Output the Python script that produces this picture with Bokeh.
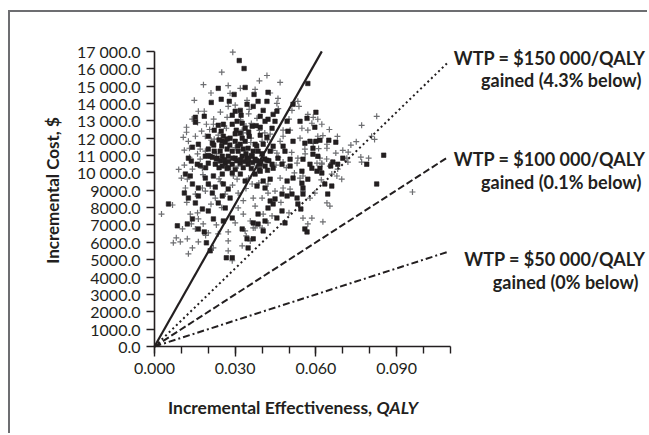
import math
from bokeh.plotting import figure
from bokeh.models import Label, FixedTicker, Range1d
from bokeh.embed import file_html
from bokeh.resources import INLINE

# ---------------- data ----------------
sq_x = [0.0315, 0.0333, 0.0237, 0.0296, 0.0211, 0.0248, 0.0278, 0.0344, 0.0337, 0.0185,
        0.0152, 0.0152, 0.0300, 0.0319, 0.0322, 0.0289, 0.0307, 0.0326, 0.0237, 0.0256,
        0.0289, 0.0222, 0.0248, 0.0304, 0.0319, 0.0337, 0.0363, 0.0200, 0.0256, 0.0281,
        0.0326, 0.0352, 0.0163, 0.0141, 0.0215, 0.0252, 0.0263, 0.0300, 0.0319, 0.0337,
        0.0200, 0.0222, 0.0244, 0.0270, 0.0289, 0.0311, 0.0330, 0.0348, 0.0367, 0.0126,
        0.0137, 0.0189, 0.0207, 0.0233, 0.0252, 0.0274, 0.0300, 0.0326, 0.0344, 0.0363,
        0.0159, 0.0200, 0.0226, 0.0263, 0.0289, 0.0319, 0.0348,
        0.0570, 0.0370, 0.0422, 0.0385, 0.0418, 0.0367, 0.0404, 0.0455, 0.0441, 0.0515,
        0.0393, 0.0422, 0.0411, 0.0448, 0.0493, 0.0541, 0.0600, 0.0567, 0.0378, 0.0393,
        0.0437, 0.0596, 0.0393, 0.0418, 0.0496, 0.0515, 0.0578, 0.0600, 0.0615, 0.0648,
        0.0674, 0.0374, 0.0404, 0.0441, 0.0478, 0.0559, 0.0589, 0.0385, 0.0400, 0.0430,
        0.0485, 0.0589, 0.0607, 0.0700, 0.0374, 0.0418, 0.0459, 0.0504, 0.0552, 0.0663,
        0.0578, 0.0393, 0.0437,
        0.0852, 0.0789, 0.0826,
        0.0052, 0.0085, 0.0122, 0.0141, 0.0163, 0.0185, 0.0193, 0.0207, 0.0178, 0.0200,
        0.0219, 0.0256, 0.0263, 0.0289, 0.0237, 0.0111, 0.0126, 0.0152, 0.0163, 0.0215,
        0.0252, 0.0281, 0.0141, 0.0163, 0.0200, 0.0226, 0.0256, 0.0274, 0.0115, 0.0133,
        0.0189, 0.0219, 0.0252, 0.0289, 0.0319, 0.0337, 0.0170, 0.0190, 0.0252, 0.0275,
        0.0326, 0.0344, 0.0348, 0.0267, 0.0289, 0.0367,
        0.0367, 0.0385, 0.0404, 0.0411, 0.0455, 0.0485, 0.0559, 0.0567, 0.0422, 0.0441,
        0.0474, 0.0430, 0.0385, 0.0544, 0.0404, 0.0430, 0.0474, 0.0493, 0.0511, 0.0530,
        0.0552, 0.0533, 0.0448, 0.0381, 0.0411, 0.0493, 0.0515, 0.0548, 0.0552, 0.0570,
        0.0604, 0.0622, 0.0644, 0.0633, 0.0659, 0.0681, 0.0655, 0.0411, 0.0441, 0.0474,
        0.0504, 0.0548, 0.0585, 0.0374, 0.0393, 0.0615,
        0.0200, 0.0215, 0.0230, 0.0245, 0.0260, 0.0275, 0.0290, 0.0305, 0.0320, 0.0335,
        0.0350, 0.0365, 0.0380, 0.0395, 0.0410, 0.0425, 0.0240, 0.0270, 0.0300, 0.0330,
        0.0360, 0.0390, 0.0420, 0.0340, 0.0310, 0.0280, 0.0250, 0.0220, 0.0350, 0.0300,
        0.0270, 0.0240, 0.0380, 0.0360]
sq_y = [16470, 16010, 14870, 14520, 14060, 14240, 14120, 13950, 14920, 13260,
        13200, 12920, 13550, 13600, 13320, 13320, 12970, 12860, 12740, 12800,
        12800, 12460, 12400, 12460, 12280, 12570, 12690, 12110, 12110, 12000,
        12000, 12110, 11650, 11480, 11710, 11820, 11770, 11820, 11650, 11820,
        11370, 11250, 11250, 11370, 11250, 11250, 11370, 11420, 11250, 10850,
        10680, 10960, 10960, 10850, 10960, 10960, 10850, 10960, 10850, 10960,
        10500, 10560, 10500, 10560, 10500, 10560, 10500,
        15150, 14520, 14640, 14120, 14120, 13830, 13600, 13550, 13370, 13950,
        13260, 13090, 12970, 12970, 12970, 12970, 13490, 13140, 12720, 12630,
        12570, 12630, 12170, 12050, 12400, 11820, 11820, 11820, 11880, 11880,
        11770, 11650, 11650, 11540, 11540, 11710, 11420, 11250, 11100, 11250,
        11250, 11080, 10960, 10850, 10790, 10730, 10850, 10790, 10790, 10620,
        10500, 10500, 10500,
        11020, 10500, 9360,
        8210, 6950, 7060, 7350, 6770, 6600, 5970, 5510, 7920, 7810,
        7350, 7230, 7980, 7400, 8270, 8840, 8550, 8270, 8670, 8840,
        8670, 8550, 9360, 9130, 9360, 9180, 9360, 9070, 9930, 9820,
        9700, 9820, 9930, 9990, 9930, 9530, 10420, 10300, 10390, 10300,
        6770, 6200, 5680, 5110, 5110, 7120,
        6200, 7050, 6660, 7230, 7400, 7120, 6770, 6600, 7980, 8210,
        7810, 8380, 7630, 7920, 9530, 9640, 8780, 8670, 8780, 8550,
        8780, 8210, 8500, 9240, 9130, 9530, 9700, 9410, 9130, 9640,
        10100, 9990, 8780, 9360, 9240, 10500, 10400, 10390, 10270, 10500,
        10390, 10100, 10270, 9930, 10100, 10270,
        11000, 10900, 10800, 10700, 10750, 10650, 10850, 10700, 10750, 10650,
        10750, 10600, 10700, 10650, 10800, 10700, 10300, 10250, 10200, 10300,
        10250, 10200, 10150, 11100, 11550, 11600, 11550, 11600, 12350, 12250,
        11950, 11900, 11550, 11000]

pl_x = [0.0291, 0.0182, 0.0274, 0.0319, 0.0281, 0.0148, 0.0344, 0.0163, 0.0185, 0.0274,
        0.0352, 0.0193, 0.0219, 0.0119, 0.0119, 0.0107, 0.0126, 0.0152, 0.0189, 0.0211,
        0.0222, 0.0237, 0.0111, 0.0130, 0.0189, 0.0170, 0.0267, 0.0326, 0.0359, 0.0270,
        0.0111, 0.0170,
        0.0418, 0.0467, 0.0374, 0.0459, 0.0455, 0.0533, 0.0537, 0.0511, 0.0570, 0.0607,
        0.0585, 0.0622, 0.0381, 0.0360, 0.0478, 0.0504, 0.0548, 0.0570, 0.0430, 0.0478,
        0.0541, 0.0607, 0.0626, 0.0641, 0.0641, 0.0674, 0.0358, 0.0467, 0.0559, 0.0510,
        0.0455, 0.0533, 0.0615, 0.0715, 0.0530, 0.0478, 0.0622, 0.0452, 0.0400, 0.0400,
        0.0826, 0.0770, 0.0807, 0.0818, 0.0767, 0.0796, 0.0719, 0.0770, 0.0959,
        0.0026, 0.0100, 0.0122, 0.0115, 0.0067, 0.0133, 0.0137, 0.0104, 0.0152, 0.0081,
        0.0070, 0.0096, 0.0122, 0.0141, 0.0126, 0.0163, 0.0181, 0.0163, 0.0190, 0.0200,
        0.0237, 0.0219, 0.0274, 0.0274, 0.0274, 0.0289, 0.0337, 0.0341, 0.0326, 0.0356,
        0.0300, 0.0311, 0.0330, 0.0226, 0.0263, 0.0189, 0.0152, 0.0178, 0.0207, 0.0245,
        0.0293, 0.0307, 0.0141, 0.0178, 0.0233, 0.0311, 0.0356, 0.0367, 0.0311,
        0.0585, 0.0626, 0.0552, 0.0570, 0.0641, 0.0652, 0.0596, 0.0578, 0.0552, 0.0504,
        0.0478, 0.0448, 0.0422, 0.0400, 0.0367, 0.0374, 0.0404, 0.0422, 0.0437, 0.0400,
        0.0374, 0.0659, 0.0678, 0.0696, 0.0652, 0.0622, 0.0681, 0.0363, 0.0388, 0.0422,
        0.0541, 0.0467, 0.0552, 0.0604,
        0.0230, 0.0265, 0.0300, 0.0330, 0.0260, 0.0220, 0.0350, 0.0290, 0.0340, 0.0240,
        0.0380, 0.0410,
        0.0090, 0.0130, 0.0160, 0.0175, 0.0205, 0.0160, 0.0140, 0.0245, 0.0300, 0.0320,
        0.0340, 0.0390, 0.0420, 0.0440, 0.0460, 0.0490, 0.0520, 0.0560, 0.0590, 0.0610,
        0.0640, 0.0660, 0.0700, 0.0730, 0.0680, 0.0650, 0.0590, 0.0500, 0.0460, 0.0430,
        0.0390, 0.0250, 0.0210, 0.0180, 0.0210, 0.0250, 0.0330, 0.0350, 0.0470, 0.0500,
        0.0620, 0.0720, 0.0750, 0.0160, 0.0230, 0.0120]
pl_y = [16950, 15080, 15030, 14870, 14580, 14180, 14180, 13550, 13550, 13830,
        13660, 12800, 12800, 12630, 12340, 12050, 11820, 12110, 12110, 11880,
        11940, 12170, 11310, 11420, 11250, 11370, 12570, 12460, 12000, 13200,
        10450, 10790,
        15610, 15210, 14810, 14290, 14000, 14120, 13830, 13600, 13370, 13090,
        12860, 12800, 13140, 12850, 12460, 12460, 12570, 12460, 12230, 12110,
        12000, 12110, 12150, 11650, 11420, 11140, 11750, 11820, 11370, 11180,
        11140, 10850, 10850, 10850, 10560, 10620, 10500, 10450, 10960, 11820,
        13260, 12740, 12110, 11930, 10910, 10850, 10620, 10620, 8900,
        7630, 9700, 9640, 9130, 8150, 7630, 7060, 6770, 6770, 6260,
        5970, 6030, 6200, 5680, 5340, 6030, 7060, 7350, 6400, 6540,
        6490, 5680, 6600, 6080, 5510, 4940, 6660, 6370, 5800, 6080,
        7120, 7980, 7630, 8550, 8780, 8950, 8780, 9130, 9240, 9500,
        9820, 9640, 10220, 10270, 10560, 10390, 7230, 6830, 8840,
        7400, 7180, 7400, 7060, 8270, 8090, 8840, 8550, 8950, 9070,
        9130, 8950, 8840, 8550, 8550, 8090, 7630, 7120, 7520, 6830,
        6830, 9930, 9820, 9640, 10390, 10560, 10220, 9360, 9420, 9360,
        9700, 9700, 9820, 10560,
        11100, 10400, 11450, 12300, 12700, 13100, 13400, 9300, 9100, 9650,
        10400, 12300,
        10200, 10900, 11100, 12400, 12500, 12900, 13100, 13500, 13900, 13050,
        12700, 12450, 11900, 11300, 10900, 10300, 10000, 11100, 11700, 11400,
        10800, 10600, 11300, 11600, 12100, 12500, 13200, 13100, 13700, 14600,
        15300, 15800, 14600, 9900, 8200, 8000, 8400, 9700, 8300, 7700,
        9600, 11200, 11800, 7700, 7000, 8300]

solid_x = [0.0, 0.0622]
solid_y = [0, 17000]

wtp_values = [150000, 100000, 50000]
wtp_x_end = 0.109
wtp_labels = ["WTP = $150 000/QALY", "WTP = $100 000/QALY", "WTP = $50 000/QALY"]
wtp_sub = ["gained (4.3% below)", "gained (0.1% below)", "gained (0% below)"]

y_ticks = [0, 1000, 2000, 3000, 4000, 5000, 6000, 7000, 8000, 9000, 10000,
           11000, 12000, 13000, 14000, 15000, 16000, 17000]
y_tick_labels = ["0.0", "1000.0", "2000.0", "3000.0", "4000.0", "5000.0", "6000.0",
                 "7000.0", "8000.0", "9000.0", "10 000.0", "11 000.0", "12 000.0",
                 "13 000.0", "14 000.0", "15 000.0", "16 000.0", "17 000.0"]
x_ticks = [0.0, 0.03, 0.06, 0.09]
x_tick_labels = ["0.000", "0.030", "0.060", "0.090"]
x_minor = [0.0, 0.01, 0.02, 0.03, 0.04, 0.05, 0.06, 0.07, 0.08, 0.09, 0.10, 0.11]

# ---------------- figure ----------------
FONT = "Lato"
INK = "#231f20"

p = figure(width=639, height=423, output_backend="svg", toolbar_location=None,
           x_range=Range1d(-0.05353, 0.18401), y_range=Range1d(-5126, 19238),
           min_border=0, min_border_left=0, min_border_right=0, min_border_top=0,
           min_border_bottom=0)
p.styles = {"margin-left": "8px", "margin-top": "10px",
            "border-top": "2px solid #6d6e71", "border-left": "2px solid #6d6e71"}
p.outline_line_color = None
p.xgrid.visible = False
p.ygrid.visible = False
p.background_fill_color = "white"
p.border_fill_color = "white"

# axes (drawn at the data origin)
xa = p.xaxis[0]
xa.fixed_location = 0
xa.bounds = (0, 0.11)
xa.ticker = FixedTicker(ticks=x_ticks, minor_ticks=x_minor)
xa.major_label_overrides = dict(zip(x_ticks, x_tick_labels))
xa.major_tick_out = 10
xa.major_tick_in = 0
xa.minor_tick_out = 7
xa.minor_tick_in = 0
xa.major_label_standoff = 6
ya = p.yaxis[0]
ya.fixed_location = 0
ya.bounds = (0, 17000)
ya.ticker = FixedTicker(ticks=y_ticks, minor_ticks=[])
ya.major_label_overrides = dict(zip(y_ticks, y_tick_labels))
ya.major_tick_out = 8
ya.major_tick_in = 0
ya.major_label_standoff = 6
for ax in (xa, ya):
    ax.axis_line_color = INK
    ax.axis_line_width = 1.6
    ax.major_tick_line_color = INK
    ax.major_tick_line_width = 1.4
    ax.minor_tick_line_color = INK
    ax.minor_tick_line_width = 1.4
    ax.major_label_text_font = FONT
    ax.major_label_text_font_size = "16px"
    ax.major_label_text_color = INK

# scatter
p.scatter(pl_x, pl_y, marker="cross", size=6, line_color="#6d6e71", line_width=1.2)
p.scatter(sq_x, sq_y, marker="square", size=4.5, fill_color=INK, line_color=INK,
          line_width=0.6)

# lines
p.line(solid_x, solid_y, line_color=INK, line_width=2.2)
dashes = ["2 3", "7 3", "7 3 2 3"]
for wtp, dash in zip(wtp_values, dashes):
    p.line([0, wtp_x_end], [0, wtp * wtp_x_end], line_color=INK, line_width=2,
           line_dash=dash)

# WTP labels (right x, baseline y) per line
lab_pos = [((0.1825, 16646), (0.1810, 15362)),
           ((0.1825, 10812), (0.1810, 9464)),
           ((0.1825, 5052), (0.1799, 3704))]
for ((x1, y1), (x2, y2)), t1, t2 in zip(lab_pos, wtp_labels, wtp_sub):
    for xx, yy, tt in ((x1, y1, t1), (x2, y2, t2)):
        p.add_layout(Label(x=xx, y=yy, text=tt, text_align="right",
                           text_baseline="alphabetic", text_font=FONT,
                           text_font_style="bold", text_font_size="18px",
                           text_color=INK))

# axis titles
p.add_layout(Label(x=-0.0379, y=8986, text="Incremental Cost, $", angle=math.pi / 2,
                   text_align="center", text_baseline="middle", text_font=FONT,
                   text_font_style="bold", text_font_size="17px", text_color=INK))
p.add_layout(Label(x=0.0825, y=-3514, text="Incremental Effectiveness, ",
                   text_align="right", text_baseline="alphabetic", text_font=FONT,
                   text_font_style="bold", text_font_size="17.5px", text_color=INK))
p.add_layout(Label(x=0.0825, y=-3514, text="QALY", text_align="left",
                   text_baseline="alphabetic", text_font=FONT,
                   text_font_style="bold italic", text_font_size="17.5px",
                   text_color=INK))

open("out.html", "w").write(file_html(p, INLINE))
